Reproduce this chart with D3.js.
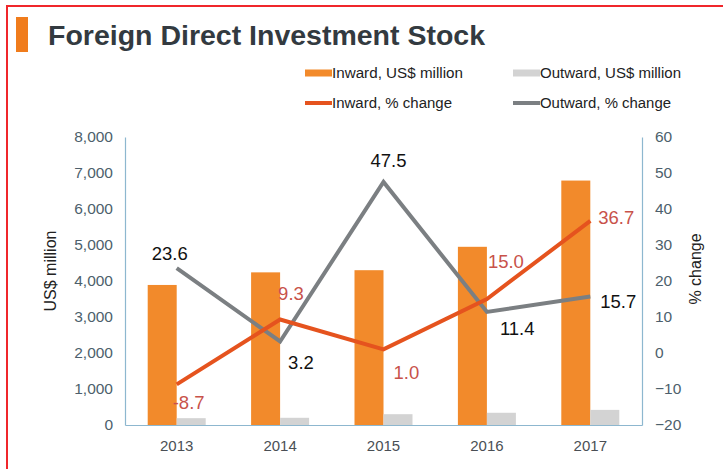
<!DOCTYPE html>
<html>
<head>
<meta charset="utf-8">
<script src="https://cdn.jsdelivr.net/npm/d3@7"></script>
<style>
body { margin: 0; background: #fff; }
text { font-family: "Liberation Sans", Arial, sans-serif; }
</style>
</head>
<body>
<svg width="723" height="469"></svg>
<script>
let years = ['2013', '2014', '2015', '2016', '2017']
let inwardStock = [3890, 4240, 4300, 4950, 6790]
let outwardStock = [190, 200, 300, 340, 420]
let inwardChange = [-8.7, 9.3, 1.0, 15.0, 36.7]
let outwardChange = [23.6, 3.2, 47.5, 11.4, 15.7]
let leftTicks = [0, 1000, 2000, 3000, 4000, 5000, 6000, 7000, 8000]
let rightTicks = [-20, -10, 0, 10, 20, 30, 40, 50, 60]

let svg = d3.select('svg')
let plotLeft = 125, plotRight = 642, plotTop = 137, plotBottom = 425
let axisColor = '#4d5f6c'

// frame and title
svg.append('path').attr('d', 'M7,469 V6 H723').attr('fill', 'none')
    .attr('stroke', '#f0262b').attr('stroke-width', 2)
svg.append('rect').attr('x', 16).attr('y', 17).attr('width', 12).attr('height', 35).attr('fill', '#f07c1c')
svg.append('text').attr('x', 48).attr('y', 45).text('Foreign Direct Investment Stock')
    .attr('font-size', 27).attr('font-weight', 'bold').attr('fill', '#333a40')
    .attr('textLength', 437).attr('lengthAdjust', 'spacingAndGlyphs')

let x = d3.scaleBand().domain(years).range([plotLeft, plotRight])
let yL = d3.scaleLinear().domain([0, 8000]).range([plotBottom, plotTop])
let yR = d3.scaleLinear().domain([-20, 60]).range([plotBottom, plotTop])

// axes
let gl = svg.append('g').attr('transform', `translate(${plotLeft},0)`)
    .call(d3.axisLeft(yL).tickValues(leftTicks).tickFormat(d3.format(',')).tickSize(0).tickPadding(12))
let gr = svg.append('g').attr('transform', `translate(${plotRight},0)`)
    .call(d3.axisRight(yR).tickValues(rightTicks).tickSize(0).tickPadding(13))
let gb = svg.append('g').attr('transform', `translate(0,${plotBottom})`)
    .call(d3.axisBottom(x).tickSize(0).tickPadding(15))
;[gl, gr, gb].forEach(function (g) {
    g.select('.domain').attr('stroke', '#8db7cf').attr('stroke-width', 1.2)
    g.selectAll('text').attr('font-size', 15.5).attr('fill', axisColor).attr('font-family', '"Liberation Sans", Arial, sans-serif')
})
gb.selectAll('text').attr('fill', '#4a4f55').attr('font-size', 15)

svg.append('text').attr('transform', 'translate(56,271) rotate(-90)').attr('text-anchor', 'middle')
    .attr('font-size', 16).attr('fill', '#222').text('US$ million')
svg.append('text').attr('transform', 'translate(701,269) rotate(-90)').attr('text-anchor', 'middle')
    .attr('font-size', 16).attr('fill', '#222').text('% change')

// bars
let bw = 29
svg.selectAll('.bin').data(years).join('rect').attr('class', 'bin')
    .attr('x', function (d) { return x(d) + x.bandwidth() / 2 - bw })
    .attr('y', function (d, i) { return yL(inwardStock[i]) })
    .attr('width', bw)
    .attr('height', function (d, i) { return plotBottom - yL(inwardStock[i]) })
    .attr('fill', '#f28a2b')
svg.selectAll('.bout').data(years).join('rect').attr('class', 'bout')
    .attr('x', function (d) { return x(d) + x.bandwidth() / 2 })
    .attr('y', function (d, i) { return yL(outwardStock[i]) })
    .attr('width', bw)
    .attr('height', function (d, i) { return plotBottom - yL(outwardStock[i]) })
    .attr('fill', '#d3d3d3')

// lines
let cx = function (d, i) { return x(years[i]) + x.bandwidth() / 2 }
let line = d3.line().x(cx).y(function (d) { return yR(d) })
svg.append('path').datum(outwardChange).attr('d', line).attr('fill', 'none')
    .attr('stroke', '#7b7f82').attr('stroke-width', 4)
svg.append('path').datum(inwardChange).attr('d', line).attr('fill', 'none')
    .attr('stroke', '#e5531e').attr('stroke-width', 4)

// labels: [dx, dy, anchor]
let inOff = [[-4, 25, 'start'], [-2, -20, 'start'], [10, 30, 'start'], [1, -31, 'start'], [8, 3, 'start']]
let outOff = [[11, -8, 'end'], [8, 28, 'start'], [5, -15, 'middle'], [13, 23, 'start'], [10, 12, 'start']]
svg.selectAll('.lin').data(inwardChange).join('text').attr('class', 'lin')
    .attr('x', function (d, i) { return cx(d, i) + inOff[i][0] })
    .attr('y', function (d, i) { return yR(d) + inOff[i][1] })
    .attr('text-anchor', function (d, i) { return inOff[i][2] })
    .attr('font-size', 18.5).attr('fill', '#c8524a')
    .text(function (d) { return d.toFixed(1) })
svg.selectAll('.lout').data(outwardChange).join('text').attr('class', 'lout')
    .attr('x', function (d, i) { return cx(d, i) + outOff[i][0] })
    .attr('y', function (d, i) { return yR(d) + outOff[i][1] })
    .attr('text-anchor', function (d, i) { return outOff[i][2] })
    .attr('font-size', 18.5).attr('fill', '#111')
    .text(function (d) { return d.toFixed(1) })

// legend
let legend = [
    {name: 'Inward, US$ million', color: '#f28a2b', x: 305, y: 73, h: 7, w: 131},
    {name: 'Outward, US$ million', color: '#d3d3d3', x: 513, y: 73, h: 7, w: 141},
    {name: 'Inward, % change', color: '#e5531e', x: 305, y: 103, h: 4, w: 120},
    {name: 'Outward, % change', color: '#7b7f82', x: 513, y: 103, h: 4, w: 131}
]
let lg = svg.selectAll('.leg').data(legend).join('g').attr('class', 'leg')
    .attr('transform', function (d) { return `translate(${d.x},${d.y})` })
lg.append('rect').attr('x', 0).attr('y', function (d) { return -d.h / 2 }).attr('width', 27)
    .attr('height', function (d) { return d.h }).attr('fill', function (d) { return d.color })
lg.append('text').attr('x', 27).attr('y', 5).attr('font-size', 14).attr('fill', '#222')
    .attr('textLength', function (d) { return d.w }).attr('lengthAdjust', 'spacingAndGlyphs')
    .text(function (d) { return d.name })
</script>
</body>
</html>
